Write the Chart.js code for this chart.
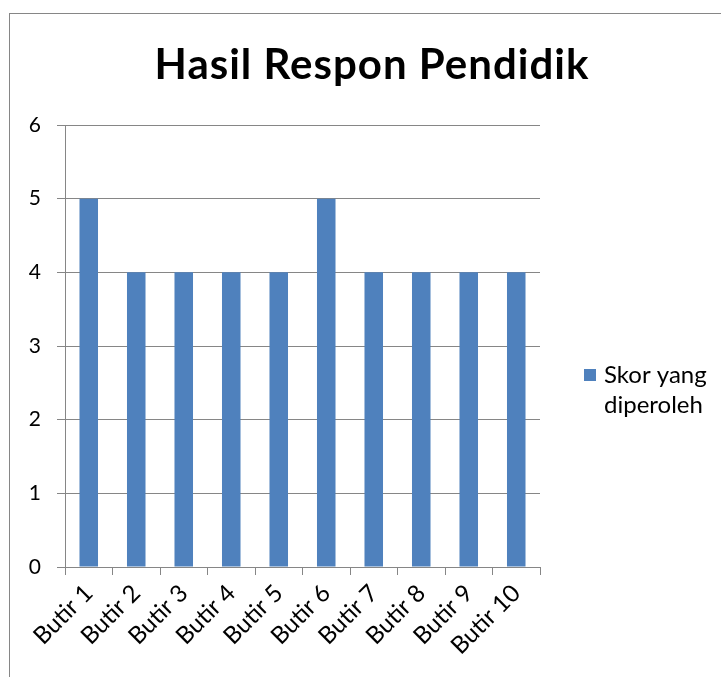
<!DOCTYPE html>
<html><head><meta charset="utf-8">
<script src="https://cdn.jsdelivr.net/npm/chart.js@4/dist/chart.umd.min.js"></script>
<style>
html,body{margin:0;padding:0;background:#fff;width:721px;height:677px;overflow:hidden}
#frame{position:absolute;left:9px;top:13px;width:800px;height:800px;border:1px solid #868686;box-sizing:border-box}
#wrap{position:absolute;left:0;top:0;width:721px;height:677px}
</style></head><body>
<div id="frame"></div>
<div id="wrap"><canvas id="c" width="721" height="677"></canvas></div>
<script>
const chartTitle = "Hasil Respon Pendidik";
const categories = ["Butir 1","Butir 2","Butir 3","Butir 4","Butir 5","Butir 6","Butir 7","Butir 8","Butir 9","Butir 10"];
const seriesName = "Skor yang diperoleh";
const seriesLines = ["Skor yang","diperoleh"];
const values = [5,4,4,4,4,5,4,4,4,4];
const yTicks = [0,1,2,3,4,5,6];

const FONT = "Lato, 'Open Sans', sans-serif";
const titlePlugin = {
  id: 'customTitle',
  afterDraw(chart){
    const ctx = chart.ctx;
    ctx.save();
    ctx.fillStyle = '#000';
    ctx.font = "bold 42px " + FONT;
    try { ctx.letterSpacing = '1px'; } catch(e) {}
    ctx.textAlign = 'center';
    ctx.textBaseline = 'alphabetic';
    ctx.fillText(chartTitle, 372, 79);
    ctx.restore();
  }
};
const legendPlugin = {
  id: 'customLegend',
  afterDraw(chart){
    const ctx = chart.ctx, a = chart.chartArea;
    const x = a.right + 44;
    ctx.save();
    ctx.fillStyle = '#4F81BD';
    ctx.fillRect(x, 369, 12, 12);
    ctx.fillStyle = '#000';
    ctx.font = "24px " + FONT;
    ctx.textBaseline = 'alphabetic';
    ctx.textAlign = 'left';
    ctx.fillText(seriesLines[0], x + 20, 383);
    ctx.fillText(seriesLines[1], x + 20, 413);
    ctx.restore();
  }
};

new Chart(document.getElementById('c'), {
  type: 'bar',
  data: { labels: categories, datasets: [{ label: seriesName, data: values, backgroundColor: '#4F81BD', borderWidth: 0, categoryPercentage: 1, barPercentage: 0.39 }] },
  options: {
    responsive: false, animation: false,
    layout: { padding: { left: 0, right: 181, top: 125, bottom: 0 } },
    plugins: {
      legend: { display: false },
      tooltip: { enabled: false },
      title: { display: false }
    },
    scales: {
      x: {
        grid: { display: true, drawOnChartArea: false, drawTicks: true, tickLength: 8, color: '#868686', offset: true },
        border: { display: true, color: '#868686', width: 1 },
        ticks: { color: '#000', font: { family: FONT, size: 24 }, minRotation: 45, maxRotation: 45, autoSkip: false, padding: 4 },
        afterFit(s){ s.height = 110; }
      },
      y: {
        min: 0, max: 6,
        afterBuildTicks(s){ s.ticks = yTicks.map(v => ({ value: v })); },
        grid: { color: '#868686', tickLength: 8, drawTicks: true },
        border: { display: true, color: '#868686', width: 1 },
        ticks: { color: '#000', font: { family: FONT, size: 21 }, padding: 16 },
        afterFit(s){ s.width = 65; }
      }
    }
  },
  plugins: [titlePlugin, legendPlugin]
});
</script>
</body></html>
